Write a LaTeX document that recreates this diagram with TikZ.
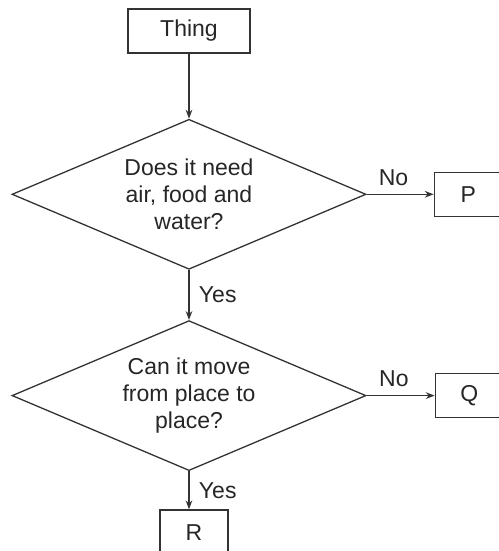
\documentclass[tikz,border=0pt]{standalone}
\usepackage{fontspec}
\setsansfont{Liberation Sans}
\usetikzlibrary{shapes.geometric, arrows.meta, positioning}
\tikzset{
    font=\sffamily\fontsize{23}{27}\selectfont,
    >=Stealth,
    % Shapes
    box/.style={rectangle, draw=black!80, line width=1.3pt, inner sep=0pt,
                minimum width=68pt, minimum height=44pt, align=center, text=black!85},
    decision/.style={diamond, aspect=2.36, draw=black!80, line width=1.3pt, inner sep=0pt,
                     minimum width=354pt, minimum height=150pt, align=center, text=black!85},
    % Flow & Labels
    flow/.style={->, line width=1.3pt, black!80},
    lbl/.style={text=black!85}
}
\begin{document}
\begin{tikzpicture}

\useasboundingbox (0,0) rectangle (498pt,-551pt);

\node[box, minimum width=122pt] (thing) at (189pt,-31pt) {Thing};
\node[decision, below=65pt of thing] (need) {Does it need\\air, food and\\water?};
\node[box, right=67pt of need] (p) {P};
\node[decision, below=50pt of need] (move) {Can it move\\from place to\\place?};
\node[box, right=68pt of move] (q) {Q};
\node[box, minimum height=46pt, below=38pt of move, xshift=5pt] (r) {R};

\draw[flow] (thing) -- (need);
\draw[flow] (need.east) -- node[lbl, above=5pt, pos=0.4] {No} (p);
\draw[flow] (need) -- node[lbl, right=6pt] {Yes} (move);
\draw[flow] (move.east) -- node[lbl, above=5pt, pos=0.4] {No} (q);
\draw[flow] (move.south) -- node[lbl, right=6pt] {Yes} (move.south |- r.north);

\end{tikzpicture}
\end{document}
